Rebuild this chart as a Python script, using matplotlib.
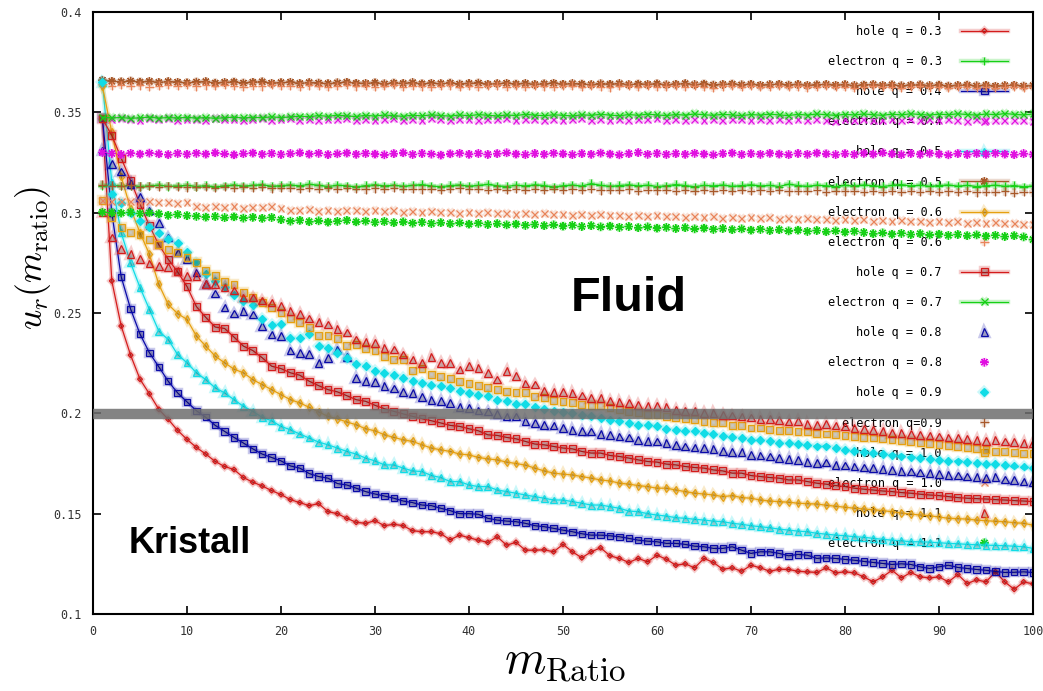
import numpy as np
import matplotlib.pyplot as plt
import matplotlib.patheffects as pe

plt.rcParams['mathtext.fontset'] = 'cm'

m_ratio = np.arange(1, 101)

# hole series: u_r falls off with m_ratio
hole_03 = [
    0.3470, 0.2660, 0.2435, 0.2290, 0.2170, 0.2097, 0.2020, 0.1970, 0.1915, 0.1870,
    0.1830, 0.1797, 0.1760, 0.1735, 0.1720, 0.1680, 0.1657, 0.1638, 0.1615, 0.1595,
    0.1570, 0.1555, 0.1540, 0.1550, 0.1510, 0.1500, 0.1477, 0.1457, 0.1452, 0.1465,
    0.1440, 0.1447, 0.1440, 0.1415, 0.1410, 0.1410, 0.1400, 0.1370, 0.1393, 0.1380,
    0.1368, 0.1357, 0.1385, 0.1343, 0.1357, 0.1318, 0.1318, 0.1320, 0.1310, 0.1347,
    0.1310, 0.1280, 0.1310, 0.1330, 0.1290, 0.1277, 0.1257, 0.1277, 0.1260, 0.1293,
    0.1273, 0.1243, 0.1250, 0.1230, 0.1277, 0.1257, 0.1223, 0.1230, 0.1213, 0.1243,
    0.1230, 0.1213, 0.1223, 0.1222, 0.1213, 0.1210, 0.1207, 0.1230, 0.1205, 0.1210,
    0.1205, 0.1185, 0.1160, 0.1185, 0.1218, 0.1180, 0.1207, 0.1185, 0.1180, 0.1185,
    0.1160, 0.1197, 0.1152, 0.1170, 0.1160, 0.1210, 0.1160, 0.1123, 0.1160, 0.1150,
]
hole_04 = [
    0.3470, 0.3000, 0.2680, 0.2520, 0.2395, 0.2302, 0.2232, 0.2160, 0.2102, 0.2057,
    0.2013, 0.1980, 0.1940, 0.1910, 0.1880, 0.1852, 0.1823, 0.1797, 0.1780, 0.1763,
    0.1738, 0.1727, 0.1700, 0.1685, 0.1677, 0.1650, 0.1643, 0.1627, 0.1610, 0.1598,
    0.1588, 0.1577, 0.1563, 0.1555, 0.1543, 0.1540, 0.1527, 0.1515, 0.1500, 0.1500,
    0.1497, 0.1477, 0.1468, 0.1463, 0.1460, 0.1452, 0.1440, 0.1435, 0.1427, 0.1418,
    0.1410, 0.1400, 0.1393, 0.1393, 0.1390, 0.1385, 0.1377, 0.1368, 0.1363, 0.1360,
    0.1352, 0.1352, 0.1347, 0.1338, 0.1335, 0.1327, 0.1327, 0.1335, 0.1318, 0.1302,
    0.1310, 0.1310, 0.1302, 0.1290, 0.1297, 0.1293, 0.1277, 0.1280, 0.1277, 0.1272,
    0.1268, 0.1262, 0.1257, 0.1252, 0.1247, 0.1250, 0.1247, 0.1235, 0.1227, 0.1235,
    0.1243, 0.1232, 0.1227, 0.1222, 0.1218, 0.1212, 0.1207, 0.1208, 0.1210, 0.1207,
]
hole_05 = [
    0.3650, 0.3150, 0.2900, 0.2750, 0.2627, 0.2518, 0.2410, 0.2368, 0.2293, 0.2252,
    0.2202, 0.2168, 0.2127, 0.2102, 0.2068, 0.2035, 0.2010, 0.1980, 0.1963, 0.1935,
    0.1918, 0.1897, 0.1877, 0.1857, 0.1843, 0.1827, 0.1810, 0.1797, 0.1777, 0.1763,
    0.1743, 0.1743, 0.1727, 0.1713, 0.1710, 0.1690, 0.1680, 0.1660, 0.1660, 0.1643,
    0.1635, 0.1635, 0.1618, 0.1610, 0.1602, 0.1593, 0.1585, 0.1577, 0.1568, 0.1568,
    0.1560, 0.1552, 0.1543, 0.1543, 0.1535, 0.1527, 0.1513, 0.1510, 0.1500, 0.1493,
    0.1488, 0.1480, 0.1477, 0.1472, 0.1468, 0.1463, 0.1460, 0.1452, 0.1447, 0.1440,
    0.1435, 0.1430, 0.1423, 0.1418, 0.1413, 0.1410, 0.1402, 0.1398, 0.1393, 0.1390,
    0.1385, 0.1382, 0.1377, 0.1372, 0.1368, 0.1365, 0.1360, 0.1360, 0.1358, 0.1355,
    0.1352, 0.1350, 0.1347, 0.1345, 0.1343, 0.1342, 0.1340, 0.1338, 0.1335, 0.1327,
]
hole_06 = [
    0.3630, 0.3400, 0.3180, 0.3020, 0.2900, 0.2793, 0.2643, 0.2543, 0.2497, 0.2468,
    0.2385, 0.2335, 0.2285, 0.2252, 0.2220, 0.2202, 0.2168, 0.2143, 0.2118, 0.2093,
    0.2068, 0.2052, 0.2030, 0.2007, 0.1985, 0.1973, 0.1957, 0.1943, 0.1923, 0.1913,
    0.1893, 0.1880, 0.1868, 0.1860, 0.1843, 0.1827, 0.1818, 0.1810, 0.1797, 0.1793,
    0.1780, 0.1773, 0.1768, 0.1757, 0.1750, 0.1742, 0.1727, 0.1713, 0.1702, 0.1697,
    0.1693, 0.1685, 0.1677, 0.1668, 0.1663, 0.1652, 0.1647, 0.1640, 0.1635, 0.1627,
    0.1627, 0.1618, 0.1610, 0.1602, 0.1598, 0.1593, 0.1585, 0.1590, 0.1580, 0.1577,
    0.1568, 0.1563, 0.1560, 0.1557, 0.1552, 0.1550, 0.1548, 0.1542, 0.1537, 0.1532,
    0.1527, 0.1523, 0.1520, 0.1515, 0.1510, 0.1503, 0.1498, 0.1493, 0.1490, 0.1483,
    0.1477, 0.1475, 0.1473, 0.1468, 0.1465, 0.1462, 0.1460, 0.1455, 0.1452, 0.1443,
]
hole_07 = [
    0.3468, 0.3385, 0.3272, 0.3160, 0.3043, 0.2935, 0.2840, 0.2768, 0.2705, 0.2632,
    0.2532, 0.2478, 0.2430, 0.2423, 0.2380, 0.2335, 0.2313, 0.2277, 0.2235, 0.2223,
    0.2202, 0.2190, 0.2160, 0.2138, 0.2118, 0.2107, 0.2088, 0.2068, 0.2060, 0.2040,
    0.2023, 0.2010, 0.1997, 0.1985, 0.1973, 0.1963, 0.1952, 0.1940, 0.1935, 0.1923,
    0.1913, 0.1893, 0.1890, 0.1880, 0.1873, 0.1860, 0.1847, 0.1843, 0.1835, 0.1827,
    0.1823, 0.1810, 0.1802, 0.1802, 0.1790, 0.1785, 0.1777, 0.1768, 0.1760, 0.1757,
    0.1747, 0.1743, 0.1735, 0.1730, 0.1727, 0.1718, 0.1713, 0.1702, 0.1702, 0.1690,
    0.1685, 0.1680, 0.1677, 0.1668, 0.1668, 0.1660, 0.1652, 0.1647, 0.1640, 0.1635,
    0.1627, 0.1622, 0.1618, 0.1613, 0.1610, 0.1605, 0.1602, 0.1597, 0.1593, 0.1590,
    0.1585, 0.1580, 0.1577, 0.1575, 0.1573, 0.1570, 0.1568, 0.1565, 0.1563, 0.1560,
]
hole_08 = [
    0.3310, 0.3243, 0.3205, 0.3143, 0.3077, 0.3010, 0.2947, 0.2877, 0.2802, 0.2768,
    0.2702, 0.2645, 0.2597, 0.2527, 0.2498, 0.2510, 0.2493, 0.2435, 0.2393, 0.2385,
    0.2313, 0.2302, 0.2297, 0.2252, 0.2277, 0.2318, 0.2280, 0.2177, 0.2160, 0.2157,
    0.2135, 0.2123, 0.2105, 0.2100, 0.2080, 0.2068, 0.2063, 0.2052, 0.2030, 0.2027,
    0.2015, 0.2010, 0.1997, 0.1985, 0.1985, 0.1963, 0.1952, 0.1943, 0.1940, 0.1927,
    0.1918, 0.1913, 0.1910, 0.1897, 0.1893, 0.1885, 0.1880, 0.1868, 0.1863, 0.1860,
    0.1852, 0.1843, 0.1835, 0.1830, 0.1827, 0.1823, 0.1813, 0.1807, 0.1807, 0.1793,
    0.1790, 0.1785, 0.1777, 0.1773, 0.1768, 0.1757, 0.1752, 0.1755, 0.1743, 0.1740,
    0.1735, 0.1730, 0.1727, 0.1722, 0.1718, 0.1713, 0.1710, 0.1705, 0.1702, 0.1698,
    0.1693, 0.1690, 0.1685, 0.1683, 0.1677, 0.1682, 0.1670, 0.1668, 0.1660, 0.1657,
]
hole_09 = [
    0.3650, 0.3093, 0.3050, 0.3000, 0.2960, 0.2927, 0.2900, 0.2870, 0.2847, 0.2802,
    0.2752, 0.2693, 0.2660, 0.2630, 0.2590, 0.2560, 0.2540, 0.2468, 0.2440, 0.2447,
    0.2377, 0.2377, 0.2397, 0.2335, 0.2327, 0.2302, 0.2277, 0.2247, 0.2235, 0.2210,
    0.2202, 0.2193, 0.2177, 0.2163, 0.2152, 0.2143, 0.2135, 0.2127, 0.2113, 0.2102,
    0.2093, 0.2085, 0.2068, 0.2060, 0.2047, 0.2047, 0.2030, 0.2023, 0.2013, 0.2007,
    0.2002, 0.1993, 0.1985, 0.1977, 0.1968, 0.1960, 0.1952, 0.1943, 0.1940, 0.1935,
    0.1923, 0.1918, 0.1913, 0.1910, 0.1902, 0.1897, 0.1885, 0.1880, 0.1877, 0.1868,
    0.1868, 0.1860, 0.1852, 0.1852, 0.1847, 0.1843, 0.1835, 0.1835, 0.1827, 0.1818,
    0.1813, 0.1807, 0.1802, 0.1797, 0.1790, 0.1785, 0.1780, 0.1777, 0.1773, 0.1768,
    0.1763, 0.1760, 0.1757, 0.1752, 0.1747, 0.1747, 0.1743, 0.1740, 0.1735, 0.1727,
]
hole_10 = [
    0.3060, 0.2977, 0.2927, 0.2902, 0.2890, 0.2868, 0.2843, 0.2818, 0.2800, 0.2775,
    0.2752, 0.2713, 0.2685, 0.2655, 0.2640, 0.2602, 0.2577, 0.2552, 0.2527, 0.2502,
    0.2473, 0.2455, 0.2430, 0.2389, 0.2388, 0.2372, 0.2340, 0.2343, 0.2325, 0.2313,
    0.2285, 0.2268, 0.2268, 0.2212, 0.2223, 0.2192, 0.2182, 0.2172, 0.2157, 0.2150,
    0.2138, 0.2130, 0.2118, 0.2108, 0.2105, 0.2102, 0.2082, 0.2077, 0.2063, 0.2060,
    0.2055, 0.2043, 0.2037, 0.2040, 0.2030, 0.2018, 0.2010, 0.2002, 0.1993, 0.1993,
    0.1985, 0.1977, 0.1973, 0.1968, 0.1960, 0.1952, 0.1952, 0.1940, 0.1940, 0.1927,
    0.1927, 0.1918, 0.1913, 0.1913, 0.1910, 0.1907, 0.1898, 0.1897, 0.1893, 0.1888,
    0.1885, 0.1880, 0.1877, 0.1873, 0.1868, 0.1863, 0.1860, 0.1857, 0.1852, 0.1843,
    0.1840, 0.1835, 0.1830, 0.1827, 0.1818, 0.1810, 0.1810, 0.1807, 0.1802, 0.1802,
]
hole_11 = [
    0.3000, 0.2877, 0.2818, 0.2793, 0.2768, 0.2747, 0.2735, 0.2730, 0.2710, 0.2685,
    0.2683, 0.2643, 0.2643, 0.2627, 0.2613, 0.2577, 0.2577, 0.2563, 0.2552, 0.2535,
    0.2510, 0.2495, 0.2472, 0.2455, 0.2442, 0.2420, 0.2402, 0.2368, 0.2357, 0.2350,
    0.2327, 0.2318, 0.2293, 0.2268, 0.2252, 0.2280, 0.2252, 0.2252, 0.2218, 0.2235,
    0.2227, 0.2202, 0.2168, 0.2210, 0.2185, 0.2148, 0.2143, 0.2110, 0.2107, 0.2105,
    0.2100, 0.2089, 0.2078, 0.2077, 0.2060, 0.2057, 0.2052, 0.2043, 0.2035, 0.2035,
    0.2030, 0.2018, 0.2013, 0.2013, 0.2002, 0.2002, 0.1993, 0.1990, 0.1985, 0.1980,
    0.1973, 0.1973, 0.1968, 0.1960, 0.1963, 0.1947, 0.1943, 0.1947, 0.1940, 0.1935,
    0.1927, 0.1923, 0.1918, 0.1913, 0.1902, 0.1902, 0.1897, 0.1893, 0.1890, 0.1885,
    0.1880, 0.1877, 0.1873, 0.1868, 0.1863, 0.1868, 0.1860, 0.1857, 0.1852, 0.1852,
]

# electron series: nearly flat
elec_03 = [
    0.3135, 0.3138, 0.3132, 0.3136, 0.3130, 0.3134, 0.3137, 0.3131, 0.3133, 0.3136,
    0.3130, 0.3135, 0.3128, 0.3134, 0.3138, 0.3132, 0.3136, 0.3140, 0.3131, 0.3135,
    0.3138, 0.3133, 0.3142, 0.3136, 0.3130, 0.3137, 0.3134, 0.3128, 0.3135, 0.3139,
    0.3133, 0.3137, 0.3131, 0.3136, 0.3140, 0.3133, 0.3129, 0.3135, 0.3138, 0.3132,
    0.3136, 0.3141, 0.3134, 0.3130, 0.3137, 0.3133, 0.3139, 0.3135, 0.3128, 0.3134,
    0.3138, 0.3132, 0.3145, 0.3136, 0.3131, 0.3135, 0.3139, 0.3133, 0.3137, 0.3130,
    0.3134, 0.3140, 0.3135, 0.3129, 0.3136, 0.3133, 0.3138, 0.3131, 0.3135, 0.3139,
    0.3133, 0.3136, 0.3130, 0.3142, 0.3135, 0.3131, 0.3137, 0.3134, 0.3129, 0.3136,
    0.3132, 0.3138, 0.3134, 0.3130, 0.3136, 0.3140, 0.3133, 0.3137, 0.3131, 0.3135,
    0.3138, 0.3132, 0.3136, 0.3130, 0.3134, 0.3137, 0.3131, 0.3135, 0.3129, 0.3133,
]
elec_04 = [
    0.3470, 0.3462, 0.3468, 0.3465, 0.3460, 0.3467, 0.3463, 0.3469, 0.3461, 0.3466,
    0.3464, 0.3458, 0.3467, 0.3462, 0.3466, 0.3460, 0.3465, 0.3469, 0.3461, 0.3464,
    0.3467, 0.3460, 0.3464, 0.3458, 0.3466, 0.3462, 0.3468, 0.3461, 0.3465, 0.3459,
    0.3463, 0.3467, 0.3460, 0.3465, 0.3461, 0.3468, 0.3462, 0.3457, 0.3464, 0.3466,
    0.3460, 0.3465, 0.3462, 0.3468, 0.3459, 0.3463, 0.3466, 0.3461, 0.3465, 0.3458,
    0.3464, 0.3467, 0.3460, 0.3463, 0.3458, 0.3466, 0.3461, 0.3465, 0.3462, 0.3467,
    0.3459, 0.3464, 0.3461, 0.3466, 0.3460, 0.3463, 0.3457, 0.3465, 0.3462, 0.3460,
    0.3464, 0.3459, 0.3466, 0.3461, 0.3463, 0.3458, 0.3465, 0.3460, 0.3452, 0.3463,
    0.3459, 0.3464, 0.3461, 0.3457, 0.3463, 0.3460, 0.3465, 0.3458, 0.3462, 0.3459,
    0.3463, 0.3460, 0.3455, 0.3462, 0.3458, 0.3461, 0.3457, 0.3460, 0.3458, 0.3456,
]
elec_05 = [
    0.3660, 0.3655, 0.3652, 0.3656, 0.3651, 0.3654, 0.3649, 0.3653, 0.3650, 0.3647,
    0.3651, 0.3653, 0.3646, 0.3649, 0.3651, 0.3646, 0.3650, 0.3652, 0.3645, 0.3648,
    0.3650, 0.3644, 0.3648, 0.3646, 0.3643, 0.3647, 0.3650, 0.3645, 0.3644, 0.3647,
    0.3642, 0.3646, 0.3644, 0.3648, 0.3642, 0.3645, 0.3643, 0.3646, 0.3641, 0.3644,
    0.3646, 0.3640, 0.3643, 0.3645, 0.3641, 0.3644, 0.3639, 0.3642, 0.3645, 0.3640,
    0.3643, 0.3641, 0.3638, 0.3642, 0.3640, 0.3643, 0.3638, 0.3641, 0.3639, 0.3642,
    0.3637, 0.3640, 0.3643, 0.3638, 0.3641, 0.3636, 0.3639, 0.3641, 0.3637, 0.3640,
    0.3635, 0.3638, 0.3640, 0.3636, 0.3639, 0.3634, 0.3637, 0.3639, 0.3635, 0.3638,
    0.3633, 0.3636, 0.3638, 0.3634, 0.3637, 0.3632, 0.3635, 0.3637, 0.3633, 0.3636,
    0.3631, 0.3634, 0.3636, 0.3632, 0.3635, 0.3630, 0.3633, 0.3635, 0.3631, 0.3633,
]
elec_06 = [
    0.3640, 0.3632, 0.3636, 0.3630, 0.3634, 0.3628, 0.3633, 0.3637, 0.3631, 0.3635,
    0.3629, 0.3634, 0.3630, 0.3636, 0.3631, 0.3627, 0.3633, 0.3629, 0.3635, 0.3630,
    0.3632, 0.3628, 0.3634, 0.3630, 0.3626, 0.3632, 0.3636, 0.3629, 0.3633, 0.3627,
    0.3631, 0.3635, 0.3628, 0.3632, 0.3629, 0.3625, 0.3631, 0.3634, 0.3628, 0.3632,
    0.3627, 0.3630, 0.3634, 0.3628, 0.3631, 0.3626, 0.3632, 0.3629, 0.3625, 0.3630,
    0.3633, 0.3627, 0.3631, 0.3628, 0.3624, 0.3630, 0.3633, 0.3627, 0.3631, 0.3626,
    0.3629, 0.3632, 0.3626, 0.3630, 0.3627, 0.3623, 0.3629, 0.3632, 0.3626, 0.3630,
    0.3625, 0.3628, 0.3631, 0.3626, 0.3629, 0.3624, 0.3627, 0.3630, 0.3625, 0.3628,
    0.3623, 0.3627, 0.3630, 0.3625, 0.3628, 0.3622, 0.3626, 0.3629, 0.3624, 0.3627,
    0.3622, 0.3626, 0.3628, 0.3623, 0.3627, 0.3621, 0.3625, 0.3628, 0.3623, 0.3626,
]
elec_07 = [
    0.3475, 0.3472, 0.3474, 0.3470, 0.3473, 0.3476, 0.3471, 0.3474, 0.3472, 0.3475,
    0.3471, 0.3474, 0.3470, 0.3473, 0.3476, 0.3472, 0.3475, 0.3473, 0.3478, 0.3474,
    0.3477, 0.3481, 0.3478, 0.3484, 0.3480, 0.3486, 0.3482, 0.3479, 0.3485, 0.3481,
    0.3487, 0.3483, 0.3480, 0.3486, 0.3482, 0.3488, 0.3484, 0.3481, 0.3487, 0.3483,
    0.3489, 0.3485, 0.3482, 0.3487, 0.3484, 0.3490, 0.3486, 0.3483, 0.3488, 0.3485,
    0.3482, 0.3488, 0.3485, 0.3490, 0.3486, 0.3483, 0.3489, 0.3485, 0.3491, 0.3487,
    0.3484, 0.3489, 0.3486, 0.3492, 0.3488, 0.3485, 0.3490, 0.3487, 0.3484, 0.3489,
    0.3486, 0.3491, 0.3487, 0.3484, 0.3490, 0.3486, 0.3492, 0.3488, 0.3485, 0.3490,
    0.3487, 0.3492, 0.3488, 0.3485, 0.3491, 0.3487, 0.3493, 0.3489, 0.3486, 0.3491,
    0.3488, 0.3493, 0.3489, 0.3486, 0.3492, 0.3488, 0.3494, 0.3490, 0.3487, 0.3492,
]
elec_08 = [
    0.3300, 0.3295, 0.3290, 0.3296, 0.3292, 0.3297, 0.3293, 0.3289, 0.3295, 0.3291,
    0.3296, 0.3292, 0.3298, 0.3293, 0.3288, 0.3294, 0.3297, 0.3291, 0.3295, 0.3290,
    0.3294, 0.3298, 0.3292, 0.3296, 0.3289, 0.3293, 0.3297, 0.3291, 0.3295, 0.3292,
    0.3288, 0.3294, 0.3298, 0.3290, 0.3295, 0.3292, 0.3287, 0.3293, 0.3296, 0.3291,
    0.3295, 0.3290, 0.3294, 0.3298, 0.3292, 0.3289, 0.3295, 0.3291, 0.3296, 0.3293,
    0.3289, 0.3294, 0.3291, 0.3297, 0.3292, 0.3288, 0.3294, 0.3299, 0.3291, 0.3295,
    0.3290, 0.3294, 0.3291, 0.3296, 0.3292, 0.3288, 0.3294, 0.3297, 0.3290, 0.3294,
    0.3291, 0.3296, 0.3292, 0.3289, 0.3295, 0.3291, 0.3297, 0.3293, 0.3289, 0.3294,
    0.3290, 0.3296, 0.3292, 0.3298, 0.3293, 0.3289, 0.3295, 0.3291, 0.3296, 0.3292,
    0.3288, 0.3294, 0.3290, 0.3295, 0.3291, 0.3296, 0.3292, 0.3289, 0.3294, 0.3290,
]
elec_09 = [
    0.3140, 0.3135, 0.3132, 0.3136, 0.3130, 0.3133, 0.3128, 0.3132, 0.3129, 0.3126,
    0.3130, 0.3127, 0.3124, 0.3128, 0.3122, 0.3126, 0.3123, 0.3127, 0.3121, 0.3125,
    0.3122, 0.3119, 0.3124, 0.3120, 0.3123, 0.3118, 0.3122, 0.3119, 0.3116, 0.3121,
    0.3118, 0.3122, 0.3117, 0.3120, 0.3116, 0.3119, 0.3115, 0.3118, 0.3121, 0.3116,
    0.3119, 0.3114, 0.3118, 0.3115, 0.3119, 0.3113, 0.3117, 0.3114, 0.3118, 0.3112,
    0.3116, 0.3113, 0.3117, 0.3111, 0.3115, 0.3112, 0.3116, 0.3110, 0.3114, 0.3111,
    0.3115, 0.3109, 0.3113, 0.3110, 0.3114, 0.3108, 0.3112, 0.3109, 0.3113, 0.3107,
    0.3111, 0.3108, 0.3112, 0.3106, 0.3110, 0.3107, 0.3111, 0.3105, 0.3109, 0.3106,
    0.3110, 0.3104, 0.3108, 0.3105, 0.3109, 0.3103, 0.3107, 0.3104, 0.3108, 0.3102,
    0.3106, 0.3103, 0.3107, 0.3101, 0.3105, 0.3102, 0.3106, 0.3100, 0.3104, 0.3101,
]
elec_10 = [
    0.3062, 0.3058, 0.3055, 0.3058, 0.3052, 0.3056, 0.3050, 0.3053, 0.3047, 0.3050,
    0.3030, 0.3027, 0.3032, 0.3025, 0.3029, 0.3023, 0.3028, 0.3024, 0.3030, 0.3020,
    0.3012, 0.3009, 0.3014, 0.3008, 0.3011, 0.3006, 0.3010, 0.3013, 0.3007, 0.3010,
    0.3004, 0.3009, 0.3003, 0.3007, 0.3001, 0.3005, 0.2999, 0.3003, 0.2998, 0.3001,
    0.2996, 0.3000, 0.2994, 0.2998, 0.2992, 0.2996, 0.2990, 0.2994, 0.2989, 0.2993,
    0.2988, 0.2992, 0.2986, 0.2990, 0.2984, 0.2988, 0.2982, 0.2986, 0.2981, 0.2985,
    0.2979, 0.2983, 0.2977, 0.2981, 0.2975, 0.2979, 0.2973, 0.2977, 0.2972, 0.2976,
    0.2970, 0.2974, 0.2968, 0.2972, 0.2966, 0.2970, 0.2964, 0.2968, 0.2962, 0.2966,
    0.2960, 0.2964, 0.2958, 0.2962, 0.2956, 0.2960, 0.2954, 0.2958, 0.2952, 0.2956,
    0.2950, 0.2954, 0.2948, 0.2952, 0.2946, 0.2950, 0.2944, 0.2948, 0.2942, 0.2940,
]
elec_11 = [
    0.3002, 0.3000, 0.2998, 0.3001, 0.2996, 0.2999, 0.2994, 0.2987, 0.2991, 0.2985,
    0.2982, 0.2978, 0.2981, 0.2975, 0.2979, 0.2973, 0.2977, 0.2972, 0.2976, 0.2965,
    0.2958, 0.2962, 0.2955, 0.2959, 0.2953, 0.2957, 0.2962, 0.2954, 0.2958, 0.2952,
    0.2956, 0.2950, 0.2954, 0.2948, 0.2952, 0.2946, 0.2950, 0.2945, 0.2949, 0.2943,
    0.2947, 0.2941, 0.2945, 0.2939, 0.2943, 0.2937, 0.2941, 0.2935, 0.2939, 0.2933,
    0.2937, 0.2931, 0.2935, 0.2929, 0.2933, 0.2927, 0.2931, 0.2925, 0.2929, 0.2923,
    0.2927, 0.2921, 0.2925, 0.2919, 0.2923, 0.2917, 0.2921, 0.2915, 0.2919, 0.2913,
    0.2917, 0.2911, 0.2915, 0.2909, 0.2913, 0.2907, 0.2911, 0.2905, 0.2909, 0.2903,
    0.2907, 0.2901, 0.2895, 0.2899, 0.2893, 0.2897, 0.2891, 0.2895, 0.2889, 0.2893,
    0.2887, 0.2891, 0.2885, 0.2889, 0.2883, 0.2887, 0.2881, 0.2885, 0.2879, 0.2866,
]

crystal_line = 0.1995

RED = '#d41c1c'
GREEN = '#16d016'
BLUE = '#0a0aa8'
MAGENTA = '#e010e0'
CYAN = '#10dce6'
BROWN = '#a8582a'
GOLD = '#e6a010'
SALMON = '#e8845a'
STAR = (8, 2, 0)

# (values, label, colour, linestyle, marker, markersize, filled marker)
series = [
    (hole_03, 'hole q = 0.3', RED, '-', 'D', 2.5, False),
    (elec_03, 'electron q = 0.3', GREEN, '-', '+', 6, False),
    (hole_04, 'hole q = 0.4', BLUE, '-', 's', 4.5, False),
    (elec_04, 'electron q = 0.4', MAGENTA, 'none', 'x', 5, False),
    (hole_05, 'hole q = 0.5', CYAN, '-', '^', 5, False),
    (elec_05, 'electron q = 0.5', BROWN, '-', STAR, 6, False),
    (hole_06, 'electron q = 0.6', GOLD, '-', 'd', 4, False),
    (elec_06, 'electron q = 0.6', SALMON, 'none', '+', 6, False),
    (hole_07, 'hole q = 0.7', RED, '-', 's', 5, False),
    (elec_07, 'electron q = 0.7', GREEN, '-', 'x', 5, False),
    (hole_08, 'hole q = 0.8', BLUE, 'none', '^', 5.5, False),
    (elec_08, 'electron q = 0.8', MAGENTA, 'none', STAR, 6, False),
    (hole_09, 'hole q = 0.9', CYAN, 'none', 'D', 4, True),
    (elec_09, 'electron q=0.9', BROWN, 'none', '+', 6, False),
    (hole_10, 'hole q = 1.0', GOLD, 'none', 's', 5, False),
    (elec_10, 'electron q = 1.0', SALMON, 'none', 'x', 5, False),
    (hole_11, 'hole q = 1.1', RED, 'none', '^', 5.5, False),
    (elec_11, 'electron q = 1.1', GREEN, 'none', STAR, 6, False),
]

fig = plt.figure(figsize=(10.43, 6.91), dpi=100)
ax = fig.add_axes([93 / 1043, 1 - 614 / 691, 940 / 1043, 602 / 691])

handles = []
for vals, label, color, ls, mk, ms, filled in series:
    glow = [pe.Stroke(linewidth=3.2, foreground=color, alpha=0.22), pe.Normal()]
    h, = ax.plot(m_ratio[:len(vals)], vals, linestyle=ls, lw=0.9, color=color,
                 marker=mk, ms=ms, mew=0.9,
                 mfc=color if filled else 'none', mec=color, label=label,
                 path_effects=glow)
    handles.append(h)

# separation between crystal and fluid phase
ax.axhline(crystal_line, color='#6e6e6e', lw=7.5, alpha=0.85, zorder=10)

ax.text(57, 0.257, 'Fluid', fontsize=35, fontweight='bold',
        family='Liberation Sans', ha='center', va='center')
ax.text(10.3, 0.135, 'Kristall', fontsize=26, fontweight='bold',
        family='Liberation Sans', ha='center', va='center')

ax.set_xlim(0, 100)
ax.set_ylim(0.1, 0.4)
ax.set_xticks(range(0, 101, 10))
ax.set_yticks([0.1, 0.15, 0.2, 0.25, 0.3, 0.35, 0.4])
ax.set_yticklabels(['0.1', '0.15', '0.2', '0.25', '0.3', '0.35', '0.4'])
ax.tick_params(direction='in', top=True, right=True, length=6, width=1.2,
               labelsize=8.5, labelcolor='#333333', pad=8)
plt.setp(ax.get_xticklabels() + ax.get_yticklabels(), family='DejaVu Sans Mono')
for sp in ax.spines.values():
    sp.set_linewidth(1.5)

ax.set_xlabel(r'$m_{\rm Ratio}$', fontsize=34)
ax.xaxis.set_label_coords(0.502, -0.04)
ax.set_ylabel(r'$u_r(m_{\rm ratio})$', fontsize=25.5)
ax.yaxis.set_label_coords(-0.043, 0.591)

leg = ax.legend(handles=handles, loc='upper right',
                bbox_to_anchor=(1008 / 1043, 1 - 25 / 691),
                bbox_transform=fig.transFigure, frameon=False,
                markerfirst=False, numpoints=1,
                prop={'family': 'DejaVu Sans Mono', 'size': 8.5},
                labelspacing=1.45, handlelength=4.0, handletextpad=1.6,
                borderpad=0, borderaxespad=0)
leg.set_zorder(1)

fig.savefig('out.png', dpi=100)
